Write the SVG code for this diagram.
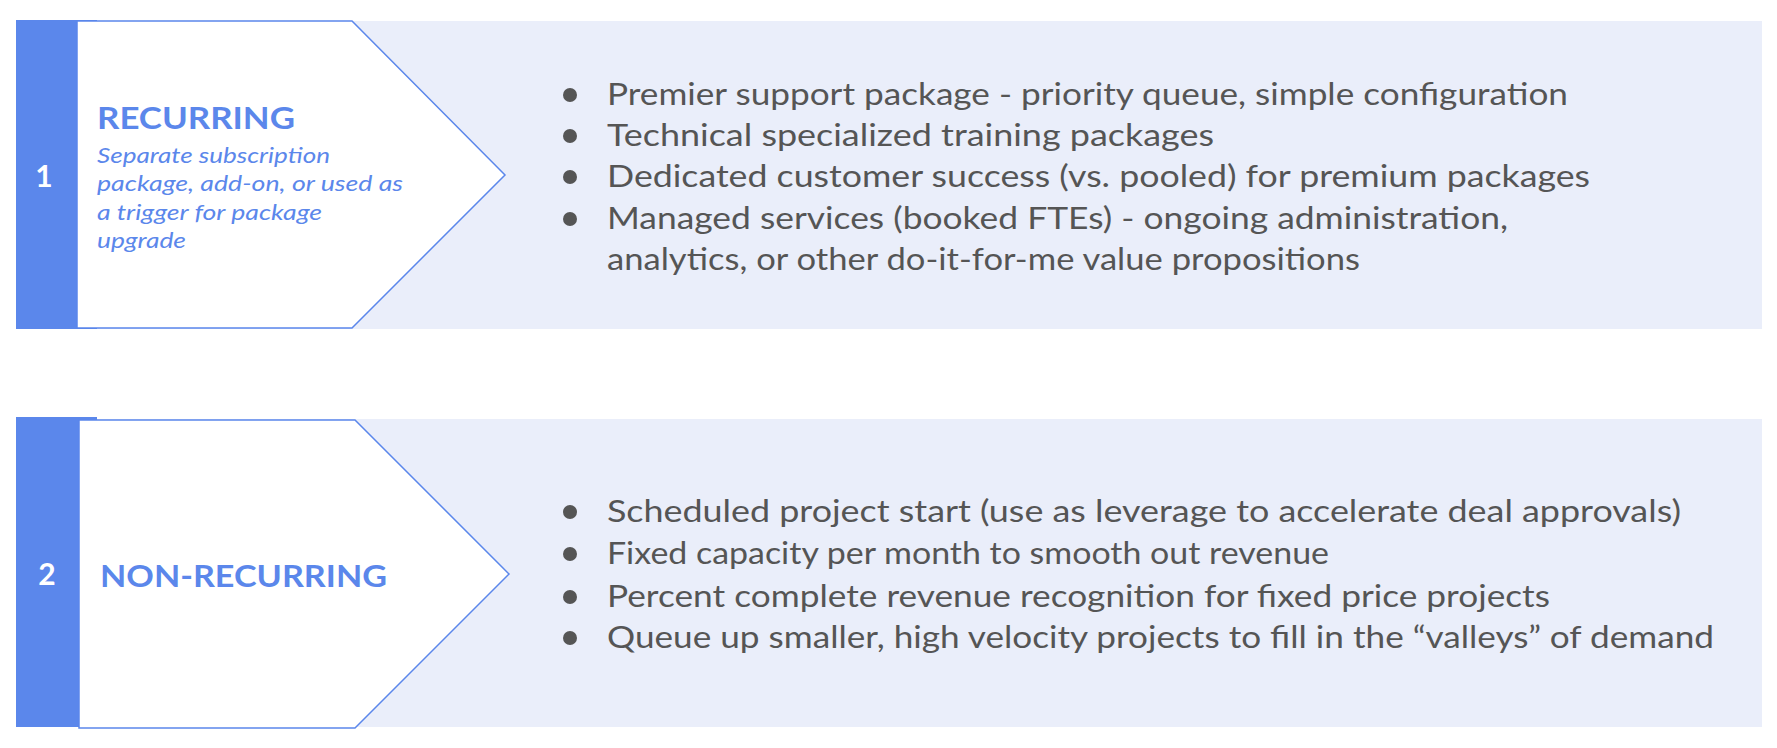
<svg xmlns="http://www.w3.org/2000/svg" width="1777" height="748" viewBox="0 0 1777 748">
<style>
.panel{fill:#EAEEFA}
.bar{fill:#5B87EB}
.arrow{fill:#FFFFFF;stroke:#5B87EB;stroke-width:1.5}
.num{font-family:Lato,"Liberation Sans",sans-serif;font-weight:700;font-size:30px;fill:#FFFFFF;text-anchor:middle}
.title{font-family:Lato,"Liberation Sans",sans-serif;font-weight:700;font-size:30px;fill:#5B87EB}
.sub{font-family:Lato,"Liberation Sans",sans-serif;font-style:italic;font-size:21px;fill:#5B87EB}
.item{font-family:Lato,"Liberation Sans",sans-serif;font-size:30px;fill:#555555}
.dot{fill:#555555}
</style>
<rect width="1777" height="748" fill="#FFFFFF"/>
<g id="node-recurring">
<rect class="panel" x="76" y="21" width="1686" height="308"/>
<rect class="bar" x="16" y="20" width="81" height="309"/>
<polygon class="arrow" points="77,21 352,21 505,175 352,328 77,328"/>
<text class="num" x="44" y="187">1</text>
<text class="title" x="97" y="129" textLength="198" lengthAdjust="spacingAndGlyphs">RECURRING</text>
<text class="sub" x="97" y="163" textLength="233" lengthAdjust="spacingAndGlyphs">Separate subscription</text>
<text class="sub" x="97" y="191" textLength="306" lengthAdjust="spacingAndGlyphs">package, add-on, or used as</text>
<text class="sub" x="97" y="220" textLength="225" lengthAdjust="spacingAndGlyphs">a trigger for package</text>
<text class="sub" x="97" y="248" textLength="89" lengthAdjust="spacingAndGlyphs">upgrade</text>
<circle class="dot" cx="570" cy="95" r="7"/>
<circle class="dot" cx="570" cy="136" r="7"/>
<circle class="dot" cx="570" cy="177" r="7"/>
<circle class="dot" cx="570" cy="219" r="7"/>
<text class="item" x="607" y="105" textLength="961" lengthAdjust="spacingAndGlyphs">Premier support package - priority queue, simple configuration</text>
<text class="item" x="607" y="146" textLength="607" lengthAdjust="spacingAndGlyphs">Technical specialized training packages</text>
<text class="item" x="607" y="187" textLength="983" lengthAdjust="spacingAndGlyphs">Dedicated customer success (vs. pooled) for premium packages</text>
<text class="item" x="607" y="229" textLength="901" lengthAdjust="spacingAndGlyphs">Managed services (booked FTEs) - ongoing administration,</text>
<text class="item" x="607" y="270" textLength="753" lengthAdjust="spacingAndGlyphs">analytics, or other do-it-for-me value propositions</text>
</g>
<g id="node-nonrecurring">
<rect class="panel" x="76" y="419" width="1686" height="308"/>
<rect class="bar" x="16" y="417" width="81" height="310"/>
<polygon class="arrow" points="79,420 355,420 509,574 355,728 79,728"/>
<text class="num" x="47" y="585">2</text>
<text class="title" x="100" y="587" textLength="287" lengthAdjust="spacingAndGlyphs">NON-RECURRING</text>
<circle class="dot" cx="570" cy="512" r="7"/>
<circle class="dot" cx="570" cy="554" r="7"/>
<circle class="dot" cx="570" cy="597" r="7"/>
<circle class="dot" cx="570" cy="638" r="7"/>
<text class="item" x="607" y="522" textLength="1074" lengthAdjust="spacingAndGlyphs">Scheduled project start (use as leverage to accelerate deal approvals)</text>
<text class="item" x="607" y="564" textLength="722" lengthAdjust="spacingAndGlyphs">Fixed capacity per month to smooth out revenue</text>
<text class="item" x="607" y="607" textLength="943" lengthAdjust="spacingAndGlyphs">Percent complete revenue recognition for fixed price projects</text>
<text class="item" x="607" y="648" textLength="1107" lengthAdjust="spacingAndGlyphs">Queue up smaller, high velocity projects to fill in the “valleys” of demand</text>
</g>
<g id="connectors"></g>
</svg>
